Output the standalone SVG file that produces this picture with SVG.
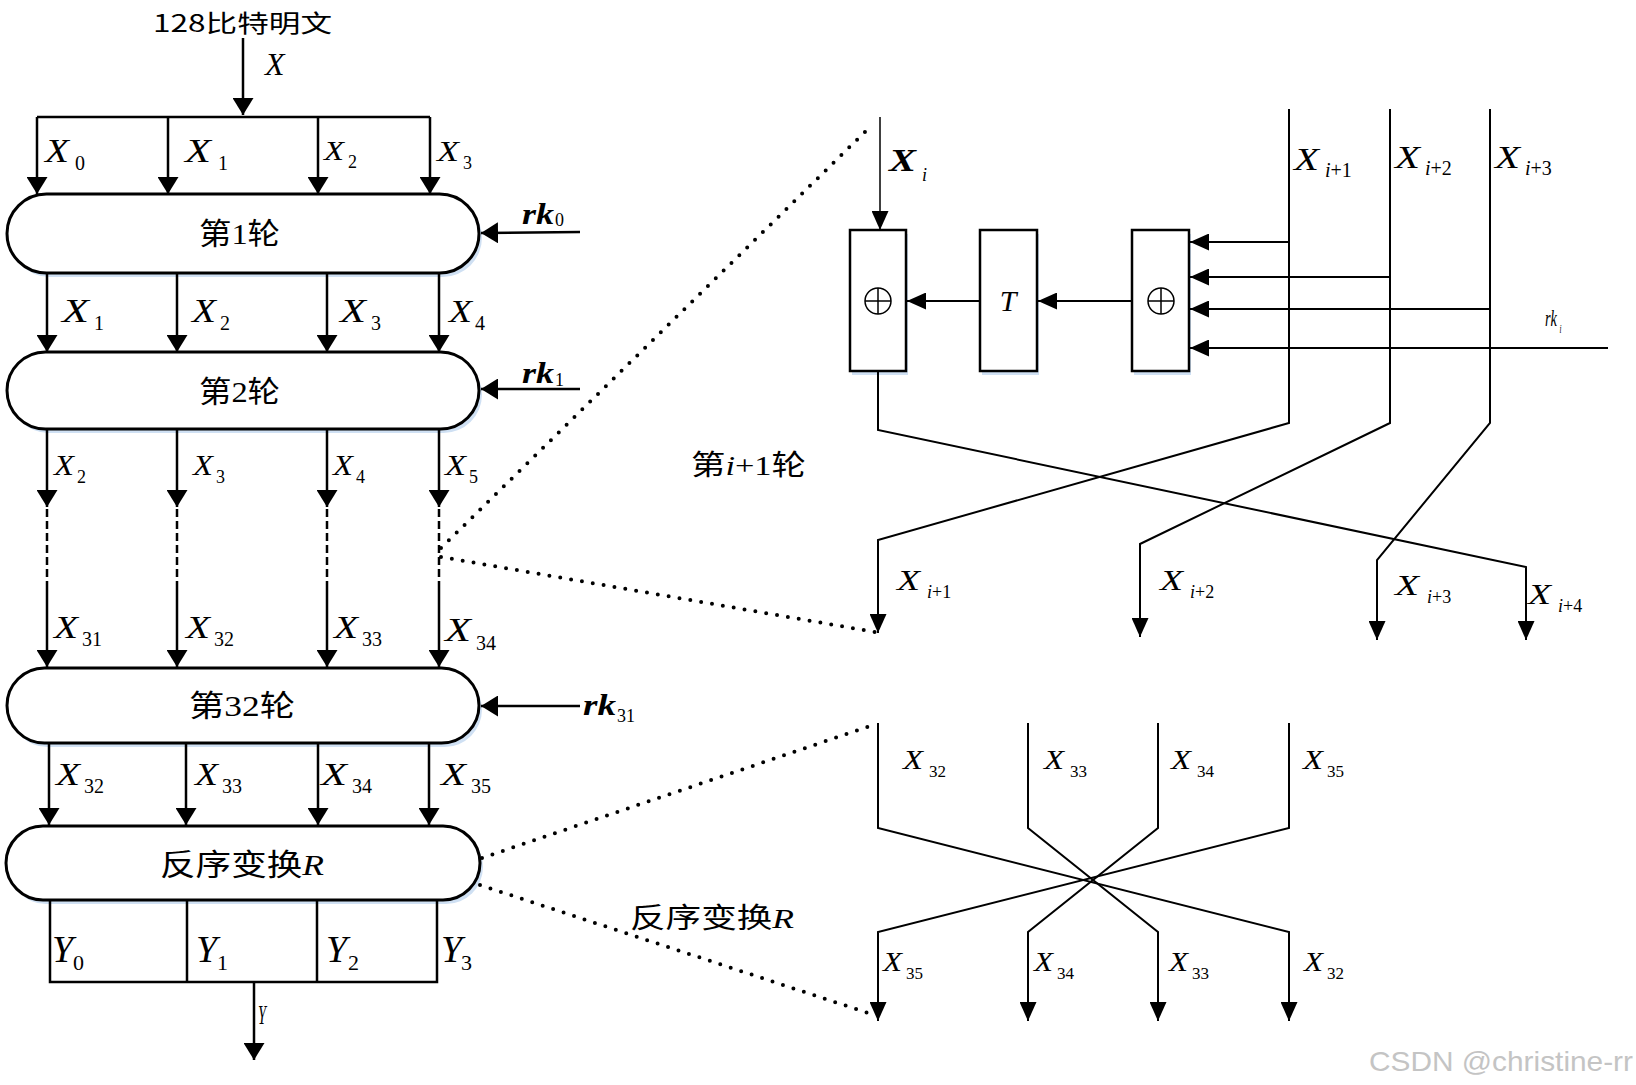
<svg xmlns="http://www.w3.org/2000/svg" width="1636" height="1085" viewBox="0 0 1636 1085">
<style>
.ln{stroke:#000;stroke-width:2.5;fill:none}
.lr{stroke:#000;stroke-width:2;fill:none}
.thin{stroke:#000;stroke-width:1.5;fill:none}
.dash{stroke:#000;stroke-width:2.5;fill:none;stroke-dasharray:8 4}
.pill{fill:#fff;stroke:#000;stroke-width:3}
.sh{fill:#cfe0f3}
.box{fill:#fff;stroke:#000;stroke-width:2.5}
.dot{stroke:#000;stroke-width:4;stroke-linecap:round;stroke-dasharray:0 11;fill:none}
.v{font-family:"Liberation Serif",serif;font-style:italic;fill:#000}
.s{font-family:"Liberation Serif",serif;font-style:normal;fill:#000}
.cn{font-family:"Liberation Serif","Noto Sans CJK SC",sans-serif;fill:#000}
.ttl{font-family:"Noto Sans CJK SC","Noto Sans",sans-serif;fill:#000}
</style>
<defs>
<marker id="aL" markerUnits="userSpaceOnUse" viewBox="0 0 17 21" markerWidth="17" markerHeight="21" refX="17" refY="10.5" orient="auto"><path d="M0,0 L17,10.5 L0,21 z" fill="#000"/></marker>
<marker id="aR" markerUnits="userSpaceOnUse" viewBox="0 0 19 17" markerWidth="19" markerHeight="17" refX="19" refY="8.5" orient="auto"><path d="M0,0 L19,8.5 L0,17 z" fill="#000"/></marker>
</defs>
<rect width="1636" height="1085" fill="#fff"/>

<g id="title">
<text class="ttl" x="153" y="32" font-size="24" textLength="179" lengthAdjust="spacingAndGlyphs">128比特明文</text>
<text class="v" x="265" y="75" font-size="32">X</text>
</g>

<g id="round1">
<rect class="sh" x="10" y="198" width="472" height="79" rx="39.5"/>
<rect class="pill" x="7" y="194" width="472" height="79" rx="39.5"/>
<text class="cn" x="199" y="244" font-size="30" textLength="81" lengthAdjust="spacingAndGlyphs">第1轮</text>
</g>
<g id="round2">
<rect class="sh" x="10" y="356" width="472" height="77" rx="38.5"/>
<rect class="pill" x="7" y="352" width="472" height="77" rx="38.5"/>
<text class="cn" x="199" y="402" font-size="30" textLength="81" lengthAdjust="spacingAndGlyphs">第2轮</text>
</g>
<g id="round32">
<rect class="sh" x="10" y="672" width="472" height="75" rx="37.5"/>
<rect class="pill" x="7" y="668" width="472" height="75" rx="37.5"/>
<text class="cn" x="189" y="716" font-size="30" textLength="106" lengthAdjust="spacingAndGlyphs">第32轮</text>
</g>
<g id="reverseR">
<rect class="sh" x="9" y="830" width="474" height="74" rx="37"/>
<rect class="pill" x="6" y="826" width="474" height="74" rx="37"/>
<text class="cn" x="160" y="875" font-size="30" textLength="164" lengthAdjust="spacingAndGlyphs">反序变换<tspan class="v">R</tspan></text>
</g>
<g id="outputY">
<path class="ln" d="M50,900 V982 H437 V900 M187,900 V982 M317,900 V982"/>
<text class="v" font-size="38"><tspan x="52" y="962">Y</tspan><tspan class="s" x="73" y="970" font-size="22">0</tspan></text>
<text class="v" font-size="38"><tspan x="196" y="962">Y</tspan><tspan class="s" x="217" y="970" font-size="22">1</tspan></text>
<text class="v" font-size="38"><tspan x="326" y="962">Y</tspan><tspan class="s" x="348" y="970" font-size="22">2</tspan></text>
<text class="v" font-size="38"><tspan x="441" y="962">Y</tspan><tspan class="s" x="461" y="970" font-size="22">3</tspan></text>
</g>

<g id="xorA">
<rect class="sh" x="852" y="234" width="56" height="141"/>
<rect class="box" x="850" y="230" width="56" height="141"/>
<circle cx="878" cy="301" r="13" fill="#fff" stroke="#000" stroke-width="1.5"/>
<path class="thin" d="M865,301 H891 M878,288 V314"/>
</g>
<g id="T">
<rect class="sh" x="982" y="234" width="57" height="141"/>
<rect class="box" x="980" y="230" width="57" height="141"/>
<text class="v" x="1008" y="311" font-size="30" text-anchor="middle">T</text>
</g>
<g id="xorB">
<rect class="sh" x="1134" y="234" width="57" height="141"/>
<rect class="box" x="1132" y="230" width="57" height="141"/>
<circle cx="1161" cy="301" r="13" fill="#fff" stroke="#000" stroke-width="1.5"/>
<path class="thin" d="M1148,301 H1174 M1161,288 V314"/>
</g>

<g id="connectors">
<line class="ln" x1="243" y1="38" x2="243" y2="115" marker-end="url(#aL)"/>
<path class="ln" d="M37,117 H430"/>
<line class="ln" x1="37" y1="117" x2="37" y2="194" marker-end="url(#aL)"/>
<line class="ln" x1="168" y1="117" x2="168" y2="194" marker-end="url(#aL)"/>
<line class="ln" x1="318" y1="117" x2="318" y2="194" marker-end="url(#aL)"/>
<line class="ln" x1="430" y1="117" x2="430" y2="194" marker-end="url(#aL)"/>

<line class="ln" x1="47" y1="273" x2="47" y2="352" marker-end="url(#aL)"/>
<line class="ln" x1="177" y1="273" x2="177" y2="352" marker-end="url(#aL)"/>
<line class="ln" x1="327" y1="273" x2="327" y2="352" marker-end="url(#aL)"/>
<line class="ln" x1="439" y1="273" x2="439" y2="352" marker-end="url(#aL)"/>

<line class="ln" x1="47" y1="429" x2="47" y2="507" marker-end="url(#aL)"/>
<line class="ln" x1="177" y1="429" x2="177" y2="507" marker-end="url(#aL)"/>
<line class="ln" x1="327" y1="429" x2="327" y2="507" marker-end="url(#aL)"/>
<line class="ln" x1="439" y1="429" x2="439" y2="507" marker-end="url(#aL)"/>
<path class="dash" d="M47,509 V585 M177,509 V585 M327,509 V585 M439,509 V585"/>
<line class="ln" x1="47" y1="585" x2="47" y2="667" marker-end="url(#aL)"/>
<line class="ln" x1="177" y1="585" x2="177" y2="667" marker-end="url(#aL)"/>
<line class="ln" x1="327" y1="585" x2="327" y2="667" marker-end="url(#aL)"/>
<line class="ln" x1="439" y1="585" x2="439" y2="667" marker-end="url(#aL)"/>

<line class="ln" x1="49" y1="743" x2="49" y2="825" marker-end="url(#aL)"/>
<line class="ln" x1="186" y1="743" x2="186" y2="825" marker-end="url(#aL)"/>
<line class="ln" x1="318" y1="743" x2="318" y2="825" marker-end="url(#aL)"/>
<line class="ln" x1="429" y1="743" x2="429" y2="825" marker-end="url(#aL)"/>

<line class="ln" x1="254" y1="982" x2="254" y2="1060" marker-end="url(#aL)"/>

<line class="ln" x1="580" y1="232" x2="481" y2="233" marker-end="url(#aL)"/>
<line class="ln" x1="580" y1="389" x2="481" y2="389" marker-end="url(#aL)"/>
<line class="ln" x1="580" y1="706" x2="481" y2="706" marker-end="url(#aL)"/>

<line class="thin" x1="880" y1="117" x2="880" y2="230" marker-end="url(#aR)"/>
<line class="lr" x1="980" y1="301" x2="907" y2="301" marker-end="url(#aR)"/>
<line class="lr" x1="1132" y1="301" x2="1038" y2="301" marker-end="url(#aR)"/>
<line class="lr" x1="1289" y1="242" x2="1190" y2="242" marker-end="url(#aR)"/>
<line class="lr" x1="1390" y1="277" x2="1190" y2="277" marker-end="url(#aR)"/>
<line class="lr" x1="1490" y1="309" x2="1190" y2="309" marker-end="url(#aR)"/>
<line class="lr" x1="1608" y1="348" x2="1190" y2="348" marker-end="url(#aR)"/>
<path class="lr" d="M878,371 V430 L1526,567 V640" marker-end="url(#aR)"/>
<path class="lr" d="M1289,109 V423 L878,540 V633" marker-end="url(#aR)"/>
<path class="lr" d="M1390,109 V423 L1140,544 V637" marker-end="url(#aR)"/>
<path class="lr" d="M1490,109 V423 L1377,560 V640" marker-end="url(#aR)"/>

<path class="lr" d="M878,723 V828 L1289,932 V1021" marker-end="url(#aR)"/>
<path class="lr" d="M1028,723 V828 L1158,932 V1021" marker-end="url(#aR)"/>
<path class="lr" d="M1158,723 V828 L1028,932 V1021" marker-end="url(#aR)"/>
<path class="lr" d="M1289,723 V828 L878,932 V1021" marker-end="url(#aR)"/>

<line class="dot" x1="441" y1="548" x2="872" y2="125"/>
<line class="dot" x1="441" y1="557" x2="875" y2="632"/>
<line class="dot" x1="482" y1="858" x2="870" y2="726"/>
<line class="dot" x1="480" y1="885" x2="868" y2="1013"/>
</g>

<g id="labels">
<text class="v" font-size="34"><tspan x="45" y="162" textLength="24" lengthAdjust="spacingAndGlyphs">X</tspan><tspan class="s" x="75" y="170" font-size="20">0</tspan></text>
<text class="v" font-size="34"><tspan x="185" y="162" textLength="26" lengthAdjust="spacingAndGlyphs">X</tspan><tspan class="s" x="218" y="170" font-size="20">1</tspan></text>
<text class="v" font-size="27"><tspan x="324" y="160" textLength="20" lengthAdjust="spacingAndGlyphs">X</tspan><tspan class="s" x="348" y="168" font-size="18">2</tspan></text>
<text class="v" font-size="29"><tspan x="437" y="161" textLength="22" lengthAdjust="spacingAndGlyphs">X</tspan><tspan class="s" x="463" y="169" font-size="18">3</tspan></text>

<text class="v" font-size="34"><tspan x="62" y="322" textLength="27" lengthAdjust="spacingAndGlyphs">X</tspan><tspan class="s" x="94" y="330" font-size="20">1</tspan></text>
<text class="v" font-size="34"><tspan x="192" y="322" textLength="24" lengthAdjust="spacingAndGlyphs">X</tspan><tspan class="s" x="220" y="330" font-size="20">2</tspan></text>
<text class="v" font-size="34"><tspan x="340" y="322" textLength="26" lengthAdjust="spacingAndGlyphs">X</tspan><tspan class="s" x="371" y="330" font-size="20">3</tspan></text>
<text class="v" font-size="32"><tspan x="449" y="322" textLength="23" lengthAdjust="spacingAndGlyphs">X</tspan><tspan class="s" x="475" y="330" font-size="20">4</tspan></text>

<text class="v" font-size="29"><tspan x="54" y="475" textLength="20" lengthAdjust="spacingAndGlyphs">X</tspan><tspan class="s" x="77" y="483" font-size="18">2</tspan></text>
<text class="v" font-size="29"><tspan x="193" y="475" textLength="20" lengthAdjust="spacingAndGlyphs">X</tspan><tspan class="s" x="216" y="483" font-size="18">3</tspan></text>
<text class="v" font-size="29"><tspan x="333" y="475" textLength="20" lengthAdjust="spacingAndGlyphs">X</tspan><tspan class="s" x="356" y="483" font-size="18">4</tspan></text>
<text class="v" font-size="29"><tspan x="445" y="475" textLength="21" lengthAdjust="spacingAndGlyphs">X</tspan><tspan class="s" x="469" y="483" font-size="18">5</tspan></text>

<text class="v" font-size="32"><tspan x="54" y="638" textLength="24" lengthAdjust="spacingAndGlyphs">X</tspan><tspan class="s" x="82" y="646" font-size="20">31</tspan></text>
<text class="v" font-size="32"><tspan x="186" y="638" textLength="24" lengthAdjust="spacingAndGlyphs">X</tspan><tspan class="s" x="214" y="646" font-size="20">32</tspan></text>
<text class="v" font-size="32"><tspan x="334" y="638" textLength="24" lengthAdjust="spacingAndGlyphs">X</tspan><tspan class="s" x="362" y="646" font-size="20">33</tspan></text>
<text class="v" font-size="33"><tspan x="445" y="641" textLength="26" lengthAdjust="spacingAndGlyphs">X</tspan><tspan class="s" x="476" y="650" font-size="20">34</tspan></text>

<text class="v" font-size="32"><tspan x="56" y="785" textLength="24" lengthAdjust="spacingAndGlyphs">X</tspan><tspan class="s" x="84" y="793" font-size="20">32</tspan></text>
<text class="v" font-size="32"><tspan x="195" y="785" textLength="23" lengthAdjust="spacingAndGlyphs">X</tspan><tspan class="s" x="222" y="793" font-size="20">33</tspan></text>
<text class="v" font-size="32"><tspan x="321" y="785" textLength="26" lengthAdjust="spacingAndGlyphs">X</tspan><tspan class="s" x="352" y="793" font-size="20">34</tspan></text>
<text class="v" font-size="32"><tspan x="441" y="785" textLength="25" lengthAdjust="spacingAndGlyphs">X</tspan><tspan class="s" x="471" y="793" font-size="20">35</tspan></text>

<text class="v" x="258" y="1024" font-size="28" textLength="8" lengthAdjust="spacingAndGlyphs">Y</text>

<text class="v" font-size="30" font-weight="bold"><tspan x="522" y="224" textLength="32" lengthAdjust="spacingAndGlyphs">rk</tspan><tspan class="s" x="555" y="226" font-size="18" font-weight="normal">0</tspan></text>
<text class="v" font-size="30" font-weight="bold"><tspan x="522" y="383" textLength="32" lengthAdjust="spacingAndGlyphs">rk</tspan><tspan class="s" x="555" y="386" font-size="18" font-weight="normal">1</tspan></text>
<text class="v" font-size="30" font-weight="bold"><tspan x="583" y="715" textLength="33" lengthAdjust="spacingAndGlyphs">rk</tspan><tspan class="s" x="617" y="722" font-size="18" font-weight="normal">31</tspan></text>

<text class="v" font-size="32" font-weight="bold"><tspan x="889" y="171" textLength="27" lengthAdjust="spacingAndGlyphs">X</tspan><tspan x="922" y="181" font-size="18" font-weight="normal">i</tspan></text>
<text class="v" font-size="32"><tspan x="1294" y="170" textLength="25" lengthAdjust="spacingAndGlyphs">X</tspan><tspan x="1325" y="177" font-size="20">i</tspan><tspan class="s" font-size="20">+1</tspan></text>
<text class="v" font-size="32"><tspan x="1395" y="168" textLength="25" lengthAdjust="spacingAndGlyphs">X</tspan><tspan x="1425" y="175" font-size="20">i</tspan><tspan class="s" font-size="20">+2</tspan></text>
<text class="v" font-size="32"><tspan x="1495" y="168" textLength="25" lengthAdjust="spacingAndGlyphs">X</tspan><tspan x="1525" y="175" font-size="20">i</tspan><tspan class="s" font-size="20">+3</tspan></text>
<text class="v" font-size="24" transform="translate(1545,326) scale(0.6,1)"><tspan x="0" y="0">rk</tspan><tspan x="24" y="7" font-size="12">i</tspan></text>

<text class="cn" x="691" y="475" font-size="28" textLength="115" lengthAdjust="spacingAndGlyphs">第<tspan class="v">i</tspan>+1轮</text>
<text class="v" font-size="30"><tspan x="897" y="590" textLength="23" lengthAdjust="spacingAndGlyphs">X</tspan><tspan x="927" y="598" font-size="18">i</tspan><tspan class="s" font-size="18">+1</tspan></text>
<text class="v" font-size="30"><tspan x="1160" y="590" textLength="23" lengthAdjust="spacingAndGlyphs">X</tspan><tspan x="1190" y="598" font-size="18">i</tspan><tspan class="s" font-size="18">+2</tspan></text>
<text class="v" font-size="30"><tspan x="1395" y="595" textLength="24" lengthAdjust="spacingAndGlyphs">X</tspan><tspan x="1427" y="603" font-size="18">i</tspan><tspan class="s" font-size="18">+3</tspan></text>
<text class="v" font-size="30"><tspan x="1528" y="604" textLength="23" lengthAdjust="spacingAndGlyphs">X</tspan><tspan x="1558" y="612" font-size="18">i</tspan><tspan class="s" font-size="18">+4</tspan></text>

<text class="v" font-size="27"><tspan x="903" y="769" textLength="20" lengthAdjust="spacingAndGlyphs">X</tspan><tspan class="s" x="929" y="777" font-size="17">32</tspan></text>
<text class="v" font-size="27"><tspan x="1044" y="769" textLength="20" lengthAdjust="spacingAndGlyphs">X</tspan><tspan class="s" x="1070" y="777" font-size="17">33</tspan></text>
<text class="v" font-size="27"><tspan x="1171" y="769" textLength="20" lengthAdjust="spacingAndGlyphs">X</tspan><tspan class="s" x="1197" y="777" font-size="17">34</tspan></text>
<text class="v" font-size="27"><tspan x="1303" y="769" textLength="20" lengthAdjust="spacingAndGlyphs">X</tspan><tspan class="s" x="1327" y="777" font-size="17">35</tspan></text>
<text class="v" font-size="27"><tspan x="883" y="971" textLength="19" lengthAdjust="spacingAndGlyphs">X</tspan><tspan class="s" x="906" y="979" font-size="17">35</tspan></text>
<text class="v" font-size="27"><tspan x="1034" y="971" textLength="19" lengthAdjust="spacingAndGlyphs">X</tspan><tspan class="s" x="1057" y="979" font-size="17">34</tspan></text>
<text class="v" font-size="27"><tspan x="1169" y="971" textLength="19" lengthAdjust="spacingAndGlyphs">X</tspan><tspan class="s" x="1192" y="979" font-size="17">33</tspan></text>
<text class="v" font-size="27"><tspan x="1304" y="971" textLength="19" lengthAdjust="spacingAndGlyphs">X</tspan><tspan class="s" x="1327" y="979" font-size="17">32</tspan></text>

<text class="cn" x="630" y="928" font-size="28" textLength="164" lengthAdjust="spacingAndGlyphs">反序变换<tspan class="v">R</tspan></text>

<text x="1369" y="1071" font-family="Liberation Sans, Arial, sans-serif" font-size="28" fill="#c4c4c4" textLength="264" lengthAdjust="spacingAndGlyphs">CSDN @christine-rr</text>
</g>
</svg>
